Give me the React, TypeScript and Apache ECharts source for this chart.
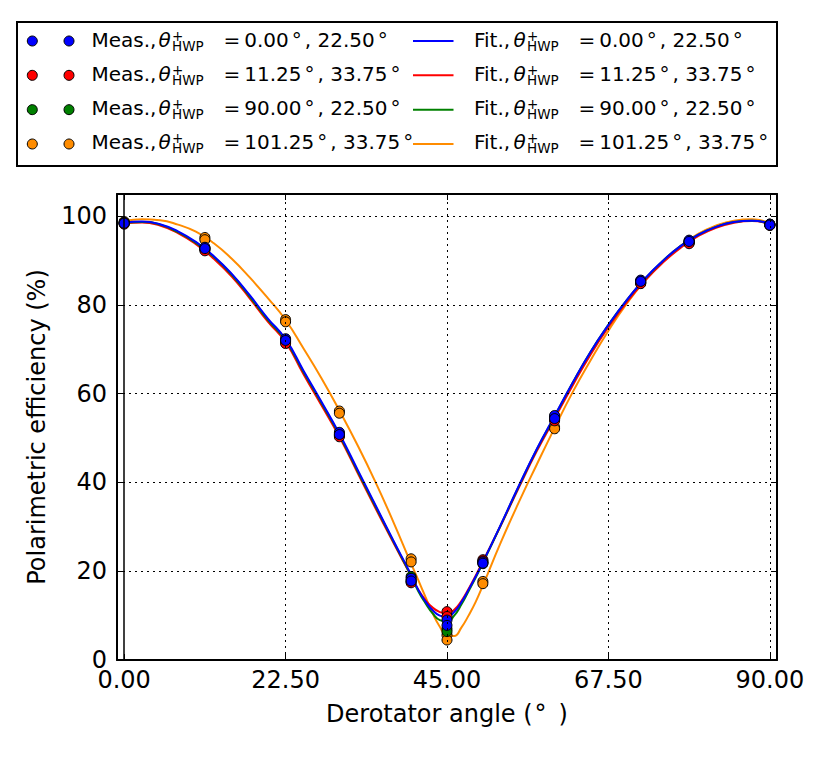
import React, { useEffect, useRef } from 'react';
import * as echarts from 'echarts';

const FONT = 'DejaVu Sans';

// Axis ticks
const xTicks = [0, 22.5, 45, 67.5, 90];
const yTicks = [0, 20, 40, 60, 80, 100];

// Measured derotator angles
const measAngles = [0, 11.25, 22.5, 30, 40, 45, 50, 60, 72, 78.75, 90];

// Measured efficiencies (two HWP angles per configuration)
const blueMeasA = [98.5, 93.0, 72.4, 51.3, 18.4, 9.0, 22.1, 55.1, 85.6, 94.6, 98.2];
const blueMeasB = [98.4, 92.7, 72.0, 50.8, 17.8, 7.8, 21.8, 54.4, 85.3, 94.3, 98.0];
const redMeasA = [98.4, 92.5, 71.6, 50.6, 18.0, 10.9, 22.6, 54.2, 85.0, 94.0, 98.0];
const redMeasB = [98.2, 92.2, 71.3, 50.3, 17.4, 9.8, 22.3, 53.9, 84.8, 93.8, 97.9];
const greenMeasA = [98.5, 92.9, 72.2, 51.0, 18.8, 7.0, 22.0, 54.8, 85.4, 94.4, 98.2];
const greenMeasB = [98.3, 92.6, 71.8, 50.7, 17.6, 6.4, 21.7, 54.5, 85.1, 94.1, 98.0];
const orangeMeasA = [98.8, 95.2, 76.7, 56.1, 22.8, 5.6, 17.7, 52.5, 85.2, 94.4, 98.2];
const orangeMeasB = [98.6, 94.7, 76.2, 55.6, 22.1, 4.5, 17.2, 52.1, 84.9, 94.1, 98.1];

// Fitted curves
const fitAngles = [0, 2.5, 5, 7.5, 10, 12.5, 15, 17.5, 20, 22.5, 25, 27.5, 30, 32.5, 35, 37.5, 40, 41, 42, 43, 44, 45, 46, 47, 48, 49, 50, 52.5, 55, 57.5, 60, 62.5, 65, 67.5, 70, 72.5, 75, 77.5, 80, 82.5, 85, 87.5, 90];
const blueFit = [98.6, 98.8, 98.2, 96.6, 94.2, 91.0, 87.0, 82.2, 77.0, 72.3, 65.2, 58.2, 51.0, 43.0, 35.0, 27.0, 19.2, 15.8, 13.2, 11.2, 10.0, 9.7, 10.8, 13.0, 15.8, 18.8, 22.0, 30.5, 39.2, 47.5, 55.0, 62.4, 69.4, 75.5, 81.0, 85.8, 89.8, 93.2, 95.8, 97.6, 98.7, 99.0, 98.3];
const redFit = [98.4, 98.6, 97.9, 96.2, 93.7, 90.4, 86.4, 81.5, 76.3, 71.6, 64.4, 57.4, 50.3, 42.3, 34.3, 26.5, 18.9, 15.8, 13.5, 11.8, 10.8, 10.5, 11.3, 13.3, 16.0, 19.0, 22.2, 30.3, 38.8, 47.0, 54.4, 61.8, 68.8, 75.0, 80.5, 85.3, 89.4, 92.8, 95.5, 97.4, 98.5, 98.9, 98.2];
const greenFit = [98.5, 98.7, 98.1, 96.4, 94.0, 90.8, 86.8, 81.9, 76.7, 72.0, 64.9, 57.9, 50.7, 42.7, 34.7, 26.8, 18.9, 15.5, 12.8, 10.5, 9.0, 8.7, 10.0, 12.5, 15.5, 18.6, 21.9, 30.4, 39.1, 47.4, 54.9, 62.4, 69.4, 75.5, 81.0, 85.7, 89.8, 93.2, 95.8, 97.6, 98.7, 99.0, 98.3];
const orangeFit = [98.9, 99.3, 99.1, 98.1, 96.5, 93.9, 90.4, 86.2, 81.6, 76.6, 70.2, 63.5, 56.2, 48.5, 40.2, 31.2, 21.7, 18.0, 14.2, 10.5, 7.5, 5.5, 5.4, 7.3, 10.0, 13.1, 16.8, 26.5, 35.5, 44.0, 52.3, 60.3, 67.5, 74.2, 80.2, 85.3, 89.6, 93.2, 96.0, 97.9, 99.0, 99.3, 98.4];

// Legend labels
const colors = ['#0000ff', '#ff0000', '#008000', '#ff8c00'];
const hwpFirst = ['0.00', '11.25', '90.00', '101.25'];
const hwpSecond = ['22.50', '33.75', '22.50', '33.75'];

const measSets = [
  [blueMeasA, blueMeasB],
  [redMeasA, redMeasB],
  [greenMeasA, greenMeasB],
  [orangeMeasA, orangeMeasB],
];
const fitSets = [blueFit, redFit, greenFit, orangeFit];

function buildLegend() {
  const els: any[] = [];
  els.push({
    type: 'rect',
    shape: { x: 17, y: 22, width: 760, height: 144 },
    style: { fill: '#fff', stroke: '#000', lineWidth: 2 },
    z: 10,
  });
  const txt = (x: number, y: number, text: string, size: number, extra: any = {}) => ({
    type: 'text',
    x,
    y,
    z: 11,
    style: {
      text,
      fontSize: size,
      fontFamily: FONT,
      fill: '#000',
      align: 'left',
      verticalAlign: 'middle',
      ...extra,
    },
  });
  const valueText = (i: number) => `=\u2009${hwpFirst[i]}{d|°}, ${hwpSecond[i]}{d|°}`;
  const rich = { d: { fontSize: 20, fontFamily: FONT, fill: '#000', padding: [0, 3, 0, 3] } };
  const theta = (x: number, y: number) => [
    txt(x, y - 1.5, 'θ', 20, { fontStyle: 'italic' }),
    txt(x + 13.5, y - 0.5, '+\nHWP', 13.5, { lineHeight: 10 }),
  ];
  for (let i = 0; i < 4; i++) {
    const y = 41 + 34.33 * i;
    const c = colors[i];
    // column 1
    els.push({ type: 'circle', z: 11, shape: { cx: 32.3, cy: y, r: 5 }, style: { fill: c, stroke: '#000', lineWidth: 1 } });
    els.push({ type: 'circle', z: 11, shape: { cx: 69, cy: y, r: 5 }, style: { fill: c, stroke: '#000', lineWidth: 1 } });
    els.push(txt(91.5, y - 1.5, 'Meas.,', 20));
    els.push(...theta(158.5, y));
    els.push(txt(223.5, y - 1.5, valueText(i), 20, { rich }));
    // column 2
    els.push({ type: 'line', z: 11, shape: { x1: 413, y1: y, x2: 453.5, y2: y }, style: { stroke: c, lineWidth: 2 } });
    els.push(txt(474, y - 1.5, 'Fit.,', 20));
    els.push(...theta(513.5, y));
    els.push(txt(578.5, y - 1.5, valueText(i), 20, { rich }));
  }
  return els;
}

function buildOption() {
  const axisLine = { show: true, onZero: false, lineStyle: { color: '#000', width: 2 } };
  const tickStyle = { color: '#000', width: 1 };
  const fitOrder = [3, 1, 2, 0];
  const measOrder = [3, 2, 1, 0];
  const series: any[] = [];
  series.push({
    type: 'line',
    name: 'grid',
    data: [],
    z: 1,
    silent: true,
    markLine: {
      silent: true,
      symbol: ['none', 'none'],
      label: { show: false },
      emphasis: { disabled: true },
      lineStyle: { color: '#000', width: 1, type: [2, 4] },
      data: [
        ...xTicks.map((v) =>
          v === 0 ? { xAxis: v, lineStyle: { type: 'solid', width: 1.5, color: '#000' } } : { xAxis: v }
        ),
        ...yTicks.filter((v) => v > 0).map((v) => ({ yAxis: v })),
      ],
    },
  });
  fitOrder.forEach((k) => {
    series.push({
      type: 'line',
      name: 'Fit ' + hwpFirst[k],
      data: fitAngles.map((x, i) => [x, fitSets[k][i]]),
      showSymbol: false,
      smooth: 0.5,
      lineStyle: { color: colors[k], width: 2 },
      itemStyle: { color: colors[k] },
      z: 2,
      silent: true,
    });
  });
  measOrder.forEach((k) => {
    const data: number[][] = [];
    measAngles.forEach((x, i) => {
      data.push([x, measSets[k][0][i]]);
      data.push([x, measSets[k][1][i]]);
    });
    series.push({
      type: 'scatter',
      name: 'Meas ' + hwpFirst[k],
      data,
      symbol: 'circle',
      symbolSize: 10,
      itemStyle: { color: colors[k], borderColor: '#000', borderWidth: 1, opacity: 1 },
      z: 3,
      silent: true,
    });
  });

  return {
    animation: false,
    backgroundColor: '#ffffff',
    textStyle: { fontFamily: FONT },
    grid: { left: 117, top: 194, width: 660, height: 466, containLabel: false, outerBoundsMode: 'none' },
    xAxis: [
      {
        type: 'value',
        min: -1,
        max: 91,
        position: 'bottom',
        name: 'Derotator angle ({d|°})',
        nameLocation: 'middle',
        nameGap: 42,
        nameTextStyle: {
          fontSize: 24,
          color: '#000',
          fontFamily: FONT,
          rich: { d: { fontSize: 24, fontFamily: FONT, color: '#000', padding: [0, 12, 0, 2] } },
        },
        axisLine,
        axisTick: { show: true, inside: true, length: 6, customValues: xTicks, lineStyle: tickStyle },
        axisLabel: {
          customValues: xTicks,
          formatter: (v: number) => v.toFixed(2),
          color: '#000',
          fontSize: 24,
          fontFamily: FONT,
          margin: 8,
        },
        splitLine: { show: false },
      },
      {
        type: 'value',
        min: -1,
        max: 91,
        position: 'top',
        axisLine,
        axisTick: { show: true, inside: true, length: 6, customValues: xTicks, lineStyle: tickStyle },
        axisLabel: { show: false },
        splitLine: { show: false },
      },
    ],
    yAxis: [
      {
        type: 'value',
        min: 0,
        max: 105,
        position: 'left',
        name: 'Polarimetric efficiency (%)',
        nameLocation: 'middle',
        nameRotate: 90,
        nameGap: 68,
        nameTextStyle: { fontSize: 24, color: '#000', fontFamily: FONT },
        axisLine,
        axisTick: { show: true, inside: true, length: 6, customValues: yTicks, lineStyle: tickStyle },
        axisLabel: {
          customValues: yTicks,
          formatter: (v: number) => String(v),
          color: '#000',
          fontSize: 24,
          fontFamily: FONT,
          margin: 10,
        },
        splitLine: { show: false },
      },
      {
        type: 'value',
        min: 0,
        max: 105,
        position: 'right',
        axisLine,
        axisTick: { show: true, inside: true, length: 6, customValues: yTicks, lineStyle: tickStyle },
        axisLabel: { show: false },
        splitLine: { show: false },
      },
    ],
    graphic: buildLegend(),
    series,
  };
}

export default function App() {
  const ref = useRef<HTMLDivElement>(null);
  useEffect(() => {
    if (!ref.current) return;
    const chart = echarts.init(ref.current, null, { renderer: 'svg' });
    chart.setOption(buildOption() as any);
    return () => chart.dispose();
  }, []);
  return (
    <div
      ref={ref}
      style={{ position: 'fixed', left: 0, top: 0, width: 831, height: 764, background: '#ffffff' }}
    />
  );
}
